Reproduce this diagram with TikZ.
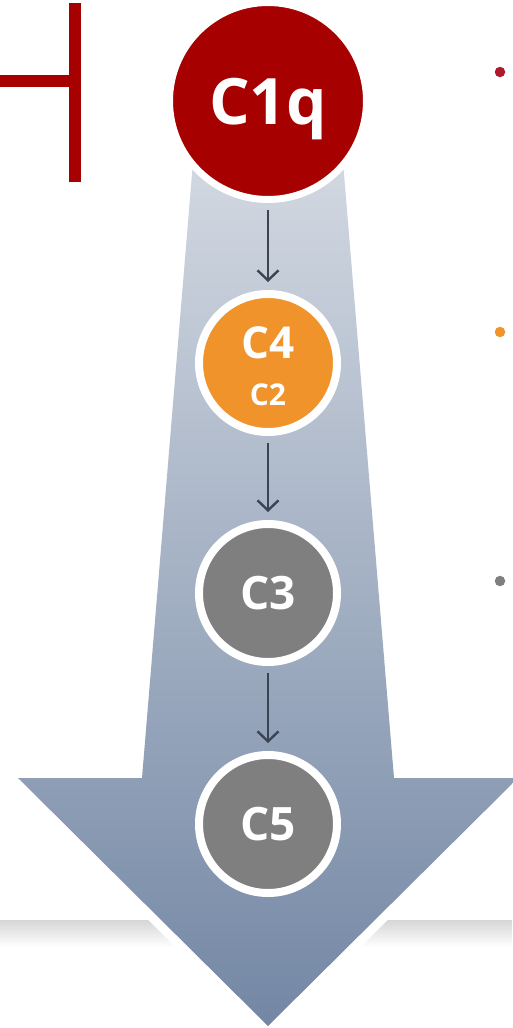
\documentclass[tikz,border=0pt]{standalone}
\usepackage{fontspec}
\setmainfont{Open Sans}
\usetikzlibrary{arrows.meta}
\definecolor{cred}{HTML}{A60000}
\definecolor{dotred}{HTML}{B0182E}
\definecolor{corange}{HTML}{EF932A}
\definecolor{cgray}{HTML}{7F7F7F}
\definecolor{cdark}{HTML}{3A4455}
\definecolor{atop}{HTML}{D3D9E2}
\definecolor{abot}{HTML}{7387A4}
\tikzset{
  bigc/.style={circle, fill=cred, draw=white, line width=7pt, minimum size=197pt, inner sep=0pt},
  smallc/.style={circle, draw=white, line width=8pt, minimum size=138pt, inner sep=0pt},
  lbl/.style={text=white, inner sep=0pt, text depth=0pt, font=\bfseries},
  conn/.style={draw=cdark, line width=2.4pt, -{Straight Barb[length=10pt,width=21pt]}, shorten <=7pt, shorten >=8pt},
  dotc/.style={circle, inner sep=0pt, minimum size=10.5pt}
}
\begin{document}
\begin{tikzpicture}[x=1pt,y=-1pt]
\useasboundingbox (0,0) rectangle (512,1028);
% inhibitor bar
\coordinate (inhA) at (0,81);
\coordinate (inhB) at (69,81);
\coordinate (barT) at (75,3);
\coordinate (barB) at (75,182);
\draw[cred, line width=12pt] (inhA) -- (inhB);
\draw[cred, line width=12pt] (barT) -- (barB);
% shadow band
\shade[top color=black!16, bottom color=white] (0,920) rectangle (512,947);
% big arrow
\shade[top color=atop, bottom color=abot, preaction={draw=white, line width=18pt, line join=round}]
  (194,150) -- (142,778) -- (18,778) -- (268,1026) -- (518,778) -- (394,778) -- (342,150) -- cycle;
% circles
\node[bigc] (c1q) at (268,101) {};
\node[lbl, text height=45pt, font=\bfseries\fontsize{64}{64}\selectfont] (c1qt) at (268,101.5) {C1q};
\node[smallc, fill=corange] (c4) at (268,363) {};
\node[lbl, text height=31pt, font=\bfseries\fontsize{44}{44}\selectfont] (c4t) at (268,342.5) {C4};
\node[lbl, text height=22pt, font=\bfseries\fontsize{30}{30}\selectfont] (c2t) at (268,394) {C2};
\node[smallc, fill=cgray] (c3) at (268,593) {};
\node[lbl, text height=33pt, font=\bfseries\fontsize{46}{46}\selectfont] (c3t) at (268,593) {C3};
\node[smallc, fill=cgray] (c5) at (268,824) {};
\node[lbl, text height=33pt, font=\bfseries\fontsize{46}{46}\selectfont] (c5t) at (268,824) {C5};
% connectors
\draw[conn] (c1q) -- (c4);
\draw[conn] (c4) -- (c3);
\draw[conn] (c3) -- (c5);
% dots
\node[dotc, fill=dotred] (d1) at (500,72) {};
\node[dotc, fill=corange] (d2) at (500,332) {};
\node[dotc, fill=cgray] (d3) at (500,581) {};
\end{tikzpicture}
\end{document}
